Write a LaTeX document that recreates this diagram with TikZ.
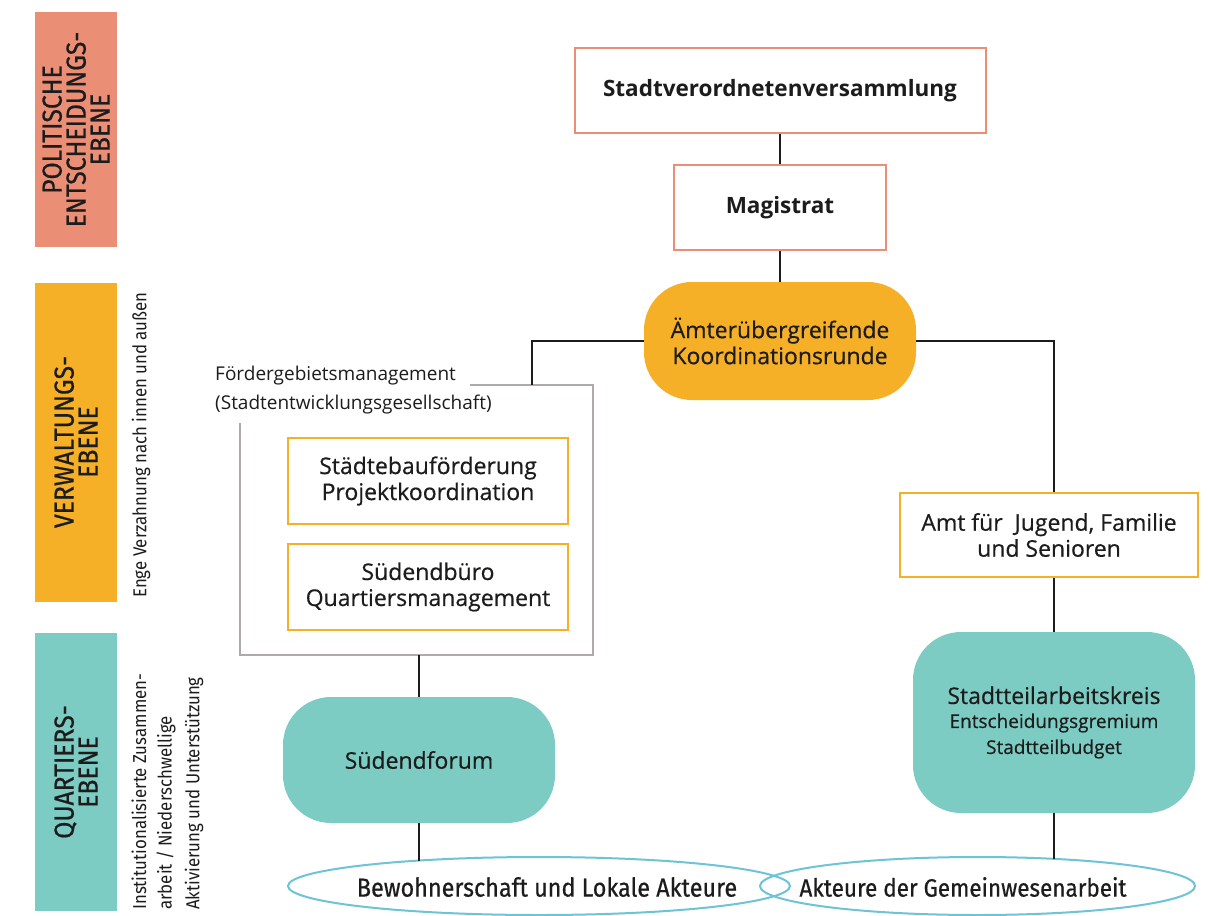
\documentclass[tikz,border=0pt]{standalone}
\usepackage{fontspec}
\setmainfont{Open Sans}
\newfontfamily\halbfett[FakeBold=0.5]{Open Sans}
\newfontfamily\condfont[FakeStretch=0.9]{Fira Sans}
\newfontfamily\condmittel[FakeStretch=0.9,FakeBold=0.6]{Fira Sans}
\usetikzlibrary{shapes.geometric}

\definecolor{lachs}{RGB}{234,143,118}
\definecolor{gelb}{RGB}{245,176,40}
\definecolor{tuerkis}{RGB}{125,204,196}
\definecolor{hellblau}{RGB}{110,195,214}
\definecolor{rahmengrau}{RGB}{175,170,170}
\definecolor{schrift}{RGB}{28,28,28}

\begin{document}
\begin{tikzpicture}[x=1pt,y=-1pt,
    linie/.style={line width=2pt,schrift},
    ebene/.style={rotate=90,minimum height=82pt,inner sep=0pt,align=center,
      text=schrift,font=\condmittel\fontsize{27.5}{24}\selectfont},
    randtext/.style={rotate=90,anchor=west,inner sep=0pt,text=schrift,
      font=\condfont\fontsize{18.7}{22}\selectfont},
    lachsbox/.style={draw=lachs,line width=2pt,inner sep=0pt,text=schrift,
      font=\fontsize{22.5}{27}\selectfont\bfseries},
    gelbbox/.style={draw=gelb,line width=2pt,inner sep=0pt,align=center,
      text=schrift,font=\halbfett\fontsize{23}{26}\selectfont},
    rund/.style={rounded corners=48pt,inner sep=0pt,align=center,
      text=schrift,font=\halbfett\fontsize{23}{26}\selectfont},
    akteur/.style={ellipse,draw=hellblau,line width=2pt,inner sep=0pt,
      outer sep=0pt,minimum height=58pt}]

    \fill[white] (0,0) rectangle (1208,916);
    \useasboundingbox (0,0) rectangle (1208,916);

    % Ebenen am linken Rand
    \node[ebene,fill=lachs,minimum width=235pt] (politik) at (76,129.5)
      {POLITISCHE\\ENTSCHEIDUNGS-\\EBENE};
    \node[ebene,fill=gelb,minimum width=319pt] (verwaltung) at (76,442)
      {VERWALTUNGS-\\EBENE};
    \node[ebene,fill=tuerkis,minimum width=278pt] (quartier) at (76,772)
      {QUARTIERS-\\EBENE};

    \node[randtext] (verzahnung) at (141,598) {Enge Verzahnung nach innen und außen};
    \node[randtext] (zusammen) at (139,910) {Institutionalisierte Zusammen-};
    \node[randtext] (nieder) at (166,910) {arbeit / Niederschwellige};
    \node[randtext] (aktiv) at (194,910) {Aktivierung und Unterstützung};

    % politische Ebene
    \node[lachsbox,minimum width=411pt,minimum height=85pt] (stv) at (780,90.5)
      {Stadtverordnetenversammlung};
    \node[lachsbox,minimum width=212pt,minimum height=85pt] (mag) at (780,207.5)
      {Magistrat};

    % Verwaltung
    \node[rund,fill=gelb,minimum width=272pt,minimum height=118pt] (amt) at (780,341)
      {Ämterübergreifende\\Koordinationsrunde};

    \node[minimum width=353pt,minimum height=270pt,inner sep=0pt] (fg) at (416.5,520) {};
    \node[anchor=north west,inner sep=0pt,align=left,text=schrift,
      font=\fontsize{19}{29}\selectfont] (fgtext) at (215,366)
      {Fördergebietsmanagement\\(Stadtentwicklungsgesellschaft)};
    \coordinate (fgin) at (532,385);

    \node[gelbbox,minimum width=280pt,minimum height=86pt] (sbf) at (428,481)
      {Städtebauförderung\\Projektkoordination};
    \node[gelbbox,minimum width=280pt,minimum height=86pt] (sbb) at (428,587)
      {Südendbüro\\Quartiersmanagement};

    \node[gelbbox,minimum width=298pt,minimum height=84pt] (jug) at (1049,535)
      {Amt für\ \ Jugend, Familie\\und Senioren};

    % Quartier
    \node[rund,fill=tuerkis,minimum width=272pt,minimum height=126pt] (forum) at (419,760)
      {Südendforum};
    \node[rund,fill=tuerkis,minimum width=282pt,minimum height=181pt] (stk) at (1054,722.5)
      {Stadtteilarbeitskreis\\[-2pt]{\fontsize{19}{27}\selectfont Entscheidungsgremium}\\
       {\fontsize{19}{27}\selectfont Stadtteilbudget}};

    \node[akteur,minimum width=502pt] (bew) at (539,886) {};
    \node[akteur,minimum width=435pt] (akt) at (977.5,886) {};
    \node[text=schrift,font=\condmittel\fontsize{26}{28}\selectfont] (bewtext) at (547,887)
      {Bewohnerschaft und Lokale Akteure};
    \node[text=schrift,font=\condmittel\fontsize{25}{28}\selectfont] (akttext) at (963,887)
      {Akteure der Gemeinwesenarbeit};

    % Rahmen Foerdergebietsmanagement
    \draw[rahmengrau,line width=1.5pt] ([yshift=-38pt]fg.north west) -- (fg.south west)
      -- (fg.south east) -- (fg.north east) -- ([xshift=-123pt]fg.north east);

    % Verbindungen
    \draw[linie] (stv) -- (mag);
    \draw[linie] (mag) -- (amt);
    \draw[linie] (amt.west) -| (fgin);
    \draw[linie] (amt.east) -| (stk.north |- jug.north);
    \draw[linie] (forum.north |- fg.south) -- (forum.north);
    \draw[linie] (jug.south -| stk.north) -- (stk.north);
    \draw[linie] (forum.south) -- (forum.south |- bew.168);
    \draw[linie] (stk.south) -- (stk.south |- akt.20);
\end{tikzpicture}
\end{document}
